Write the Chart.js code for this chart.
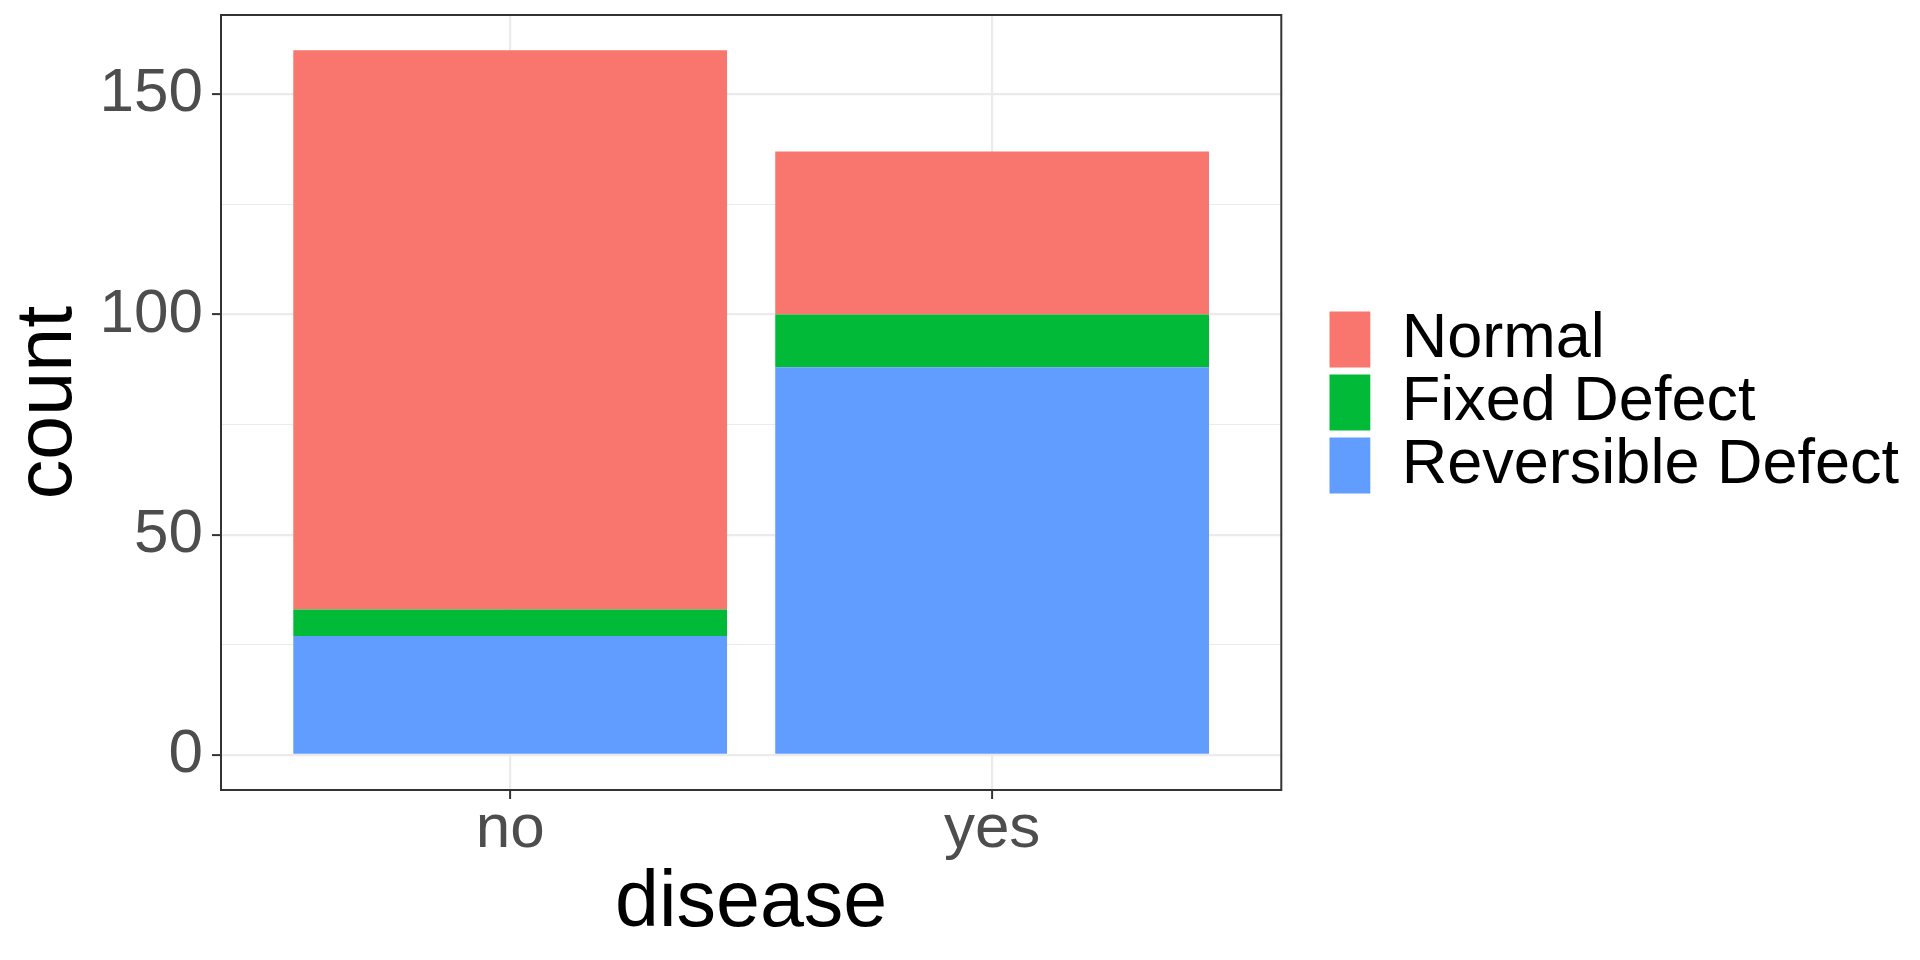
<!DOCTYPE html>
<html>
<head>
<meta charset="utf-8">
<title>thal by disease</title>
<script src="https://cdn.jsdelivr.net/npm/chart.js@4.4.1/dist/chart.umd.min.js"></script>
<style>
  html, body { margin: 0; padding: 0; background: #ffffff; }
  #wrap { width: 1920px; height: 960px; }
</style>
</head>
<body>
<div id="wrap"><canvas id="thalChart"></canvas></div>
<script>
// counts, bottom segment first
const categories = ['no', 'yes'];
const reversibleCounts = [27, 88];
const fixedCounts = [6, 12];
const normalCounts = [127, 37];
const yTickValues = [0, 25, 50, 75, 100, 125, 150];
const yLabelValues = [0, 50, 100, 150];

Chart.defaults.font.family = "'Liberation Sans', Arial, sans-serif";

const toPoints = arr => arr.map((v, i) => ({ x: i + 1, y: v }));
const isMajor = v => yLabelValues.includes(v);
// drop the half-label padding chart.js adds around axes
const noEdgePadding = scale => {
  scale.paddingTop = 0;
  scale.paddingBottom = 0;
  scale.paddingLeft = 0;
  scale.paddingRight = 0;
};

// panel border on all four sides, like theme_bw
const panelBorder = {
  id: 'panelBorder',
  afterDatasetsDraw(chart) {
    const { ctx, chartArea: a } = chart;
    ctx.save();
    ctx.strokeStyle = '#333333';
    ctx.lineWidth = 2;
    ctx.strokeRect(a.left, a.top, a.right - a.left, a.bottom - a.top);
    ctx.restore();
  }
};

const ctx = document.getElementById('thalChart');
new Chart(ctx, {
  type: 'bar',
  data: {
    datasets: [
      { label: 'Reversible Defect', data: toPoints(reversibleCounts), backgroundColor: '#619CFF', borderWidth: 0 },
      { label: 'Fixed Defect', data: toPoints(fixedCounts), backgroundColor: '#00BA38', borderWidth: 0 },
      { label: 'Normal', data: toPoints(normalCounts), backgroundColor: '#F8766D', borderWidth: 0 }
    ]
  },
  options: {
    responsive: true,
    maintainAspectRatio: false,
    animation: false,
    barPercentage: 0.9,
    categoryPercentage: 1.0,
    layout: { padding: { left: 0, right: 11, top: 15, bottom: 0 } },
    plugins: {
      tooltip: { enabled: false },
      legend: {
        position: 'right',
        fullSize: false,
        reverse: true,
        maxWidth: 700,
        labels: {
          boxWidth: 41,
          boxHeight: 56,
          padding: 0,
          color: '#000000',
          font: { size: 63 }
        }
      }
    },
    scales: {
      x: {
        type: 'linear',
        stacked: true,
        offset: false,
        min: 0.4,
        max: 2.6,
        afterBuildTicks: scale => { scale.ticks = categories.map((c, i) => ({ value: i + 1 })); },
        afterFit: scale => { scale.height = 170; noEdgePadding(scale); },
        grid: { offset: false, color: '#EBEBEB', lineWidth: 2.2, tickLength: 9, tickColor: '#333333', tickWidth: 2 },
        border: { display: false },
        ticks: {
          color: '#4D4D4D',
          font: { size: 62 },
          padding: -6,
          maxRotation: 0,
          callback: v => categories[v - 1]
        },
        title: {
          display: true,
          text: 'disease',
          color: '#000000',
          font: { size: 79 },
          padding: { top: 0, bottom: 8 }
        }
      },
      y: {
        stacked: true,
        min: -8,
        max: 168,
        afterBuildTicks: scale => { scale.ticks = yTickValues.map(v => ({ value: v })); },
        afterFit: scale => { scale.width = 221; noEdgePadding(scale); },
        grid: {
          color: '#EBEBEB',
          lineWidth: c => isMajor(c.tick.value) ? 2.2 : 1.1,
          tickLength: 9,
          tickWidth: 2,
          tickColor: c => isMajor(c.tick.value) ? '#333333' : 'rgba(0,0,0,0)'
        },
        border: { display: false },
        ticks: {
          color: '#4D4D4D',
          font: { size: 62 },
          padding: 9,
          callback: v => isMajor(v) ? String(v) : ''
        },
        title: {
          display: true,
          text: 'count',
          color: '#000000',
          font: { size: 79 },
          padding: { top: 2, bottom: 0 }
        }
      },
      gap: {
        type: 'linear',
        position: 'right',
        display: true,
        afterFit: scale => { scale.width = 48; noEdgePadding(scale); },
        grid: { display: false },
        border: { display: false },
        ticks: { display: false }
      }
    }
  },
  plugins: [panelBorder]
});
</script>
</body>
</html>
